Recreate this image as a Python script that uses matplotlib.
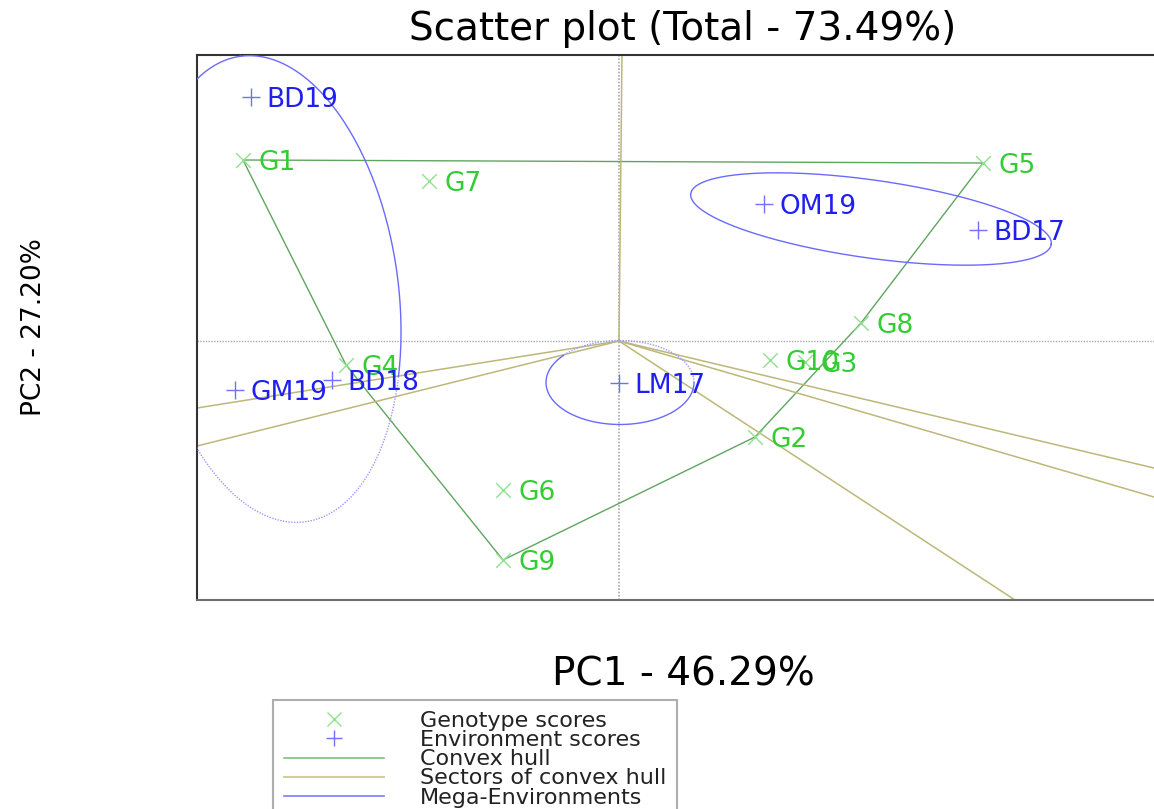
import numpy as np
import matplotlib.pyplot as plt
from matplotlib.lines import Line2D

plt.rcParams['font.family'] = ['DejaVu Sans']

# genotype scores
gen_names = ["G1", "G2", "G3", "G4", "G5", "G6", "G7", "G8", "G9", "G10"]
gen_pc1 = [-3.76, 1.36, 1.86, -2.73, 3.64, -1.16, -1.90, 2.42, -1.16, 1.51]
gen_pc2 = [1.81, -0.96, -0.21, -0.24, 1.78, -1.49, 1.60, 0.18, -2.19, -0.19]

# environment scores
env_names = ["BD17", "BD18", "BD19", "GM19", "LM17", "OM19"]
env_pc1 = [3.59, -2.87, -3.68, -3.84, 0.00, 1.45]
env_pc2 = [1.11, -0.39, 2.44, -0.49, -0.42, 1.37]

# convex hull vertices (genotypes) in order
hull = ["G1", "G5", "G8", "G2", "G9", "G4"]

# directions of the sector rays from the origin
sector_dx = [0.03, 5.35, 5.35, 3.96, -4.22, -4.22]
sector_dy = [2.86, -1.27, -1.56, -2.59, -1.05, -0.67]

# mega-environment ellipses: centre, semi-axes, angle (deg)
mega_cx = [-3.46, 2.52, 0.01]
mega_cy = [0.52, 1.22, -0.415]
mega_a = [2.35, 1.82, 0.74]
mega_b = [1.25, 0.39, 0.42]
mega_ang = [98, -8, 0]

gen_col = "#33cc33"
env_col = "#1f1ff0"
hull_col = "#5fa55f"
sect_col = "#bdb77a"
mega_col = "#6a6aff"

fig = plt.figure(figsize=(11.54, 8.09), dpi=100)
ax = fig.add_axes([197 / 1154, 1 - 600 / 809, (1169 - 197) / 1154, (600 - 55) / 809])
ax.set_xlim(-4.22, 5.50)
ax.set_ylim(-2.59, 2.86)

# reference lines through the origin
ax.axhline(0, color="#aaaaaa", lw=1, ls=(0, (1, 1)), zorder=1)
ax.axvline(0, color="#aaaaaa", lw=1.2, ls=(0, (1, 1)), zorder=1)

# convex hull
idx = [gen_names.index(g) for g in hull] + [gen_names.index(hull[0])]
ax.plot([gen_pc1[i] for i in idx], [gen_pc2[i] for i in idx],
        color=hull_col, lw=1, zorder=2)

# sectors
for dx, dy in zip(sector_dx, sector_dy):
    ax.plot([0, dx * 1.5], [0, dy * 1.5], color=sect_col, lw=1.1, zorder=2)


# mega-environments
def ellipse_pts(cx, cy, a, b, ang, t):
    th = np.radians(ang)
    x = a * np.cos(t)
    y = b * np.sin(t)
    return cx + x * np.cos(th) - y * np.sin(th), cy + x * np.sin(th) + y * np.cos(th)


t = np.linspace(0, 2 * np.pi, 400)
# big left ellipse: lower part drawn dotted
ex, ey = ellipse_pts(mega_cx[0], mega_cy[0], mega_a[0], mega_b[0], mega_ang[0], t)
solid = ey > -0.39
ax.plot(np.where(solid, ex, np.nan), np.where(solid, ey, np.nan), color=mega_col, lw=1, zorder=3)
ax.plot(np.where(~solid, ex, np.nan), np.where(~solid, ey, np.nan), color="#9a9aff",
        lw=1, ls=(0, (1, 1)), zorder=3)

ex, ey = ellipse_pts(mega_cx[1], mega_cy[1], mega_a[1], mega_b[1], mega_ang[1], t)
ax.plot(ex, ey, color=mega_col, lw=1, zorder=3)

# LM17 ellipse: upper right arc dotted
t1 = np.linspace(np.radians(140), np.radians(360), 200)
t2 = np.linspace(0, np.radians(140), 120)
ex, ey = ellipse_pts(mega_cx[2], mega_cy[2], mega_a[2], mega_b[2], mega_ang[2], t1)
ax.plot(ex, ey, color=mega_col, lw=1, zorder=3)
ex, ey = ellipse_pts(mega_cx[2], mega_cy[2], mega_a[2], mega_b[2], mega_ang[2], t2)
ax.plot(ex, ey, color="#9a9aff", lw=1, ls=(0, (1, 1)), zorder=3)

# points and labels
ax.scatter(gen_pc1, gen_pc2, marker="x", s=110, color="#8fe08f", linewidths=1, zorder=4)
ax.scatter(env_pc1, env_pc2, marker="+", s=150, color="#7070ff", linewidths=1, zorder=4)
for n, x, y in zip(gen_names, gen_pc1, gen_pc2):
    ax.annotate(n, (x, y), xytext=(11, 0), textcoords="offset points",
                va="center_baseline", ha="left", color=gen_col, fontsize=19, zorder=5)
for n, x, y in zip(env_names, env_pc1, env_pc2):
    ax.annotate(n, (x, y), xytext=(11, 0), textcoords="offset points",
                va="center_baseline", ha="left", color=env_col, fontsize=19, zorder=5)

ax.set_xticks([])
ax.set_yticks([])
for s in ["top", "left", "bottom"]:
    ax.spines[s].set_color("#333333")
    ax.spines[s].set_linewidth(1.5)
ax.spines["bottom"].set_color("#707070")
ax.spines["right"].set_visible(False)

ax.set_title("Scatter plot (Total - 73.49%)", fontsize=28, pad=11)
ax.set_xlabel("PC1 - 46.29%", fontsize=28, labelpad=40)
ax.set_ylabel("PC2 - 27.20%", fontsize=19, labelpad=108)

handles = [
    Line2D([], [], ls="none", marker="x", ms=10, mew=1, color="#8fe08f"),
    Line2D([], [], ls="none", marker="+", ms=12, mew=1, color="#7070ff"),
    Line2D([], [], color="#7fbf7f", lw=1.2),
    Line2D([], [], color="#cfcf9c", lw=1.5),
    Line2D([], [], color="#7a7aff", lw=1.2),
]
labels = ["Genotype scores", "Environment scores", "Convex hull",
          "Sectors of convex hull", "Mega-Environments"]
leg = ax.legend(handles, labels, loc="upper left",
                bbox_to_anchor=(273 / 1154, 1 - 700 / 809), bbox_transform=fig.transFigure,
                fontsize=16, frameon=True, fancybox=False, borderpad=0.5,
                labelspacing=-0.04, handlelength=4.5, handletextpad=1.6, borderaxespad=0)
leg.get_frame().set_edgecolor("#9a9a9a")
leg.get_frame().set_linewidth(1.5)
for txt in leg.get_texts():
    txt.set_color("#222222")

fig.savefig("out.png", dpi=100)
